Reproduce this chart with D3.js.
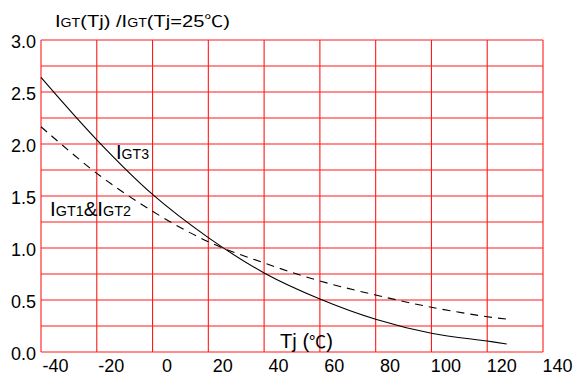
<!DOCTYPE html>
<html>
<head>
<meta charset="utf-8">
<script src="https://cdn.jsdelivr.net/npm/d3@7"></script>
<style>
  body { margin: 0; background: #fff; }
  svg { display: block; }
  text { font-family: "Liberation Sans", Arial, sans-serif; fill: #000; }
</style>
</head>
<body>
<svg id="chart" width="574" height="383"></svg>
<script>
let width = 574, height = 383;

// tick labels
var xTicks = [-40, -20, 0, 20, 40, 60, 80, 100, 120, 140];
var yTicks = [0, 0.5, 1.0, 1.5, 2.0, 2.5, 3.0];
// grid lines (grid is offset from the labels in the original)
var xGrid = [-45, -25, -5, 15, 35, 55, 75, 95, 115, 135];
var yGrid = [0, 0.25, 0.5, 0.75, 1.0, 1.25, 1.5, 1.75, 2.0, 2.25, 2.5, 2.75, 3.0];

// IGT3 curve (solid)
var igt3Tj  = [-45, -25, -5, 15, 35, 55, 75, 95, 115, 122];
var igt3Val = [2.64, 2.04, 1.515, 1.10, 0.76, 0.51, 0.315, 0.18, 0.105, 0.077];

// IGT1 & IGT2 curve (dashed)
var igt12Tj  = [-45, -25, -5, 15, 35, 55, 75, 95, 115, 122];
var igt12Val = [2.166, 1.718, 1.353, 1.06, 0.856, 0.683, 0.548, 0.43, 0.339, 0.317];

let svg = d3.select("#chart");

var x = d3.scaleLinear().domain([-45, 135]).range([41, 543]);
var y = d3.scaleLinear().domain([0, 3]).range([352, 40]);

// grid
var grid = svg.append("g").attr("stroke", "#ff1a1a").attr("stroke-width", 1.1);
grid.selectAll("line.v")
  .data(xGrid)
  .join("line")
  .attr("class", "v")
  .attr("x1", d => x(d)).attr("x2", d => x(d))
  .attr("y1", y(0)).attr("y2", y(3));
grid.selectAll("line.h")
  .data(yGrid)
  .join("line")
  .attr("class", "h")
  .attr("x1", x(-45)).attr("x2", x(135))
  .attr("y1", d => y(d)).attr("y2", d => y(d));

// axes labels
svg.append("g")
  .attr("transform", `translate(0,${y(0)})`)
  .call(d3.axisBottom(x).tickValues(xTicks).tickSize(0).tickPadding(7).tickFormat(d => String(d)))
  .call(g => g.select(".domain").remove())
  .call(g => g.selectAll("text").attr("font-size", 18).attr("font-family", "Liberation Sans").attr("fill", "#000"));

svg.append("g")
  .attr("transform", `translate(${x(-45)},0)`)
  .call(d3.axisLeft(y).tickValues(yTicks).tickSize(0).tickPadding(5).tickFormat(d3.format(".1f")))
  .call(g => g.select(".domain").remove())
  .call(g => g.selectAll("text").attr("font-size", 18).attr("font-family", "Liberation Sans").attr("fill", "#000").attr("dy", "0.4em"));

// curves
var line = d3.line()
  .x(d => x(d[0]))
  .y(d => y(d[1]))
  .curve(d3.curveCatmullRom);

svg.append("path")
  .datum(d3.zip(igt3Tj, igt3Val))
  .attr("d", line)
  .attr("fill", "none")
  .attr("stroke", "#000")
  .attr("stroke-width", 1.1);

svg.append("path")
  .datum(d3.zip(igt12Tj, igt12Val))
  .attr("d", line)
  .attr("fill", "none")
  .attr("stroke", "#000")
  .attr("stroke-width", 1.1)
  .attr("stroke-dasharray", "8,6");

// text labels with small subscripts
function label(px, py, len, parts) {
  var t = svg.append("text").attr("x", px).attr("y", py)
    .attr("textLength", len).attr("lengthAdjust", "spacingAndGlyphs");
  parts.forEach(p => {
    var s = t.append("tspan").attr("font-size", p[1]).text(p[0]);
    if (p[2]) s.attr("font-family", p[2]);
  });
  return t;
}

var cjk = "Noto Sans CJK SC";
label(55, 27, 175, [["I", 17], ["GT", 12], ["(Tj) /I", 17], ["GT", 12], ["(Tj=25", 17], ["℃", 16, cjk], [")", 17]]);
label(116, 159, 33, [["I", 20], ["GT3", 14]]);
label(50, 216, 81, [["I", 20], ["GT1", 14], ["&I", 20], ["GT2", 14]]);
label(280, 348, 53, [["Tj (", 20], ["℃", 17, cjk], [")", 20]]);
</script>
</body>
</html>
